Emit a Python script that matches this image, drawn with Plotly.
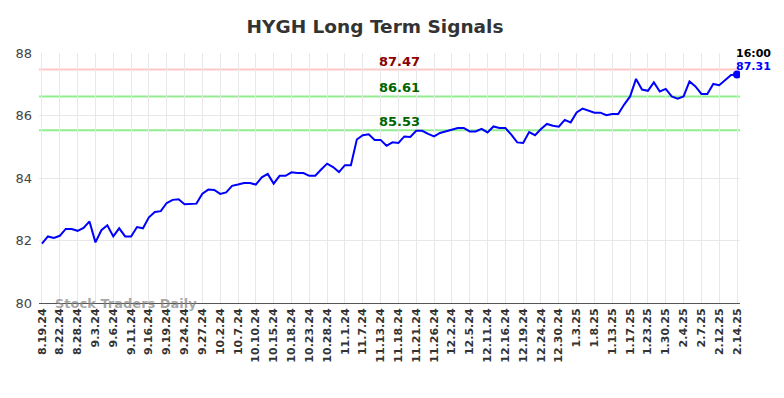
import plotly.graph_objects as go

title = "HYGH Long Term Signals"
tick_labels = ["8.19.24", "8.22.24", "8.28.24", "9.3.24", "9.6.24", "9.11.24", "9.16.24", "9.19.24",
               "9.24.24", "9.27.24", "10.2.24", "10.7.24", "10.10.24", "10.15.24", "10.18.24",
               "10.23.24", "10.28.24", "11.1.24", "11.7.24", "11.13.24", "11.18.24", "11.21.24",
               "11.26.24", "12.2.24", "12.5.24", "12.11.24", "12.16.24", "12.19.24", "12.24.24",
               "12.30.24", "1.3.25", "1.8.25", "1.13.25", "1.17.25", "1.23.25", "1.30.25",
               "2.4.25", "2.7.25", "2.12.25", "2.14.25"]
prices = [81.90, 82.13, 82.08, 82.15, 82.37, 82.37, 82.31, 82.40, 82.61, 81.94,
          82.33, 82.49, 82.13, 82.39, 82.13, 82.13, 82.43, 82.39, 82.74, 82.91,
          82.94, 83.20, 83.30, 83.32, 83.16, 83.18, 83.18, 83.50, 83.63, 83.62,
          83.49, 83.54, 83.75, 83.79, 83.84, 83.84, 83.79, 84.02, 84.13, 83.82,
          84.07, 84.07, 84.18, 84.16, 84.16, 84.07, 84.07, 84.27, 84.46, 84.35,
          84.19, 84.41, 84.41, 85.23, 85.37, 85.40, 85.22, 85.22, 85.03, 85.14,
          85.12, 85.33, 85.31, 85.51, 85.51, 85.41, 85.33, 85.44, 85.50, 85.55,
          85.60, 85.60, 85.49, 85.49, 85.57, 85.46, 85.65, 85.60, 85.60, 85.39,
          85.14, 85.12, 85.47, 85.37, 85.57, 85.73, 85.67, 85.64, 85.86, 85.78,
          86.10, 86.22, 86.15, 86.09, 86.09, 86.01, 86.05, 86.05, 86.35, 86.61,
          87.17, 86.83, 86.79, 87.06, 86.77, 86.85, 86.61, 86.54, 86.61, 87.09,
          86.93, 86.69, 86.69, 87.01, 86.97, 87.15, 87.30, 87.31]
levels = [87.47, 86.61, 85.53]
level_line_colors = ["#ffc8c8", "#90ee90", "#90ee90"]
level_text_colors = ["#8b0000", "#006400", "#006400"]
last_time = "16:00"
y_ticks = [80, 82, 84, 86, 88]

x = list(range(len(prices)))
tick_pos = x[::3]

fig = go.Figure()
for lv, lc in zip(levels, level_line_colors):
    fig.add_hline(y=lv, line=dict(color=lc, width=2), layer="below")

fig.add_trace(go.Scatter(x=x, y=prices, mode="lines",
                         line=dict(color="#0000ff", width=2), hoverinfo="skip"))
fig.add_trace(go.Scatter(x=[x[-1]], y=[prices[-1]], mode="markers",
                         marker=dict(color="#0000ff", size=8)))

mid = x[len(x) // 2 + 1]
for lv, tc in zip(levels, level_text_colors):
    fig.add_annotation(x=mid, y=lv, text=f"<b>{lv:.2f}</b>", showarrow=False,
                       yanchor="bottom", yshift=-1, xshift=1,
                       font=dict(color=tc, size=13, family="DejaVu Sans"))

fig.add_annotation(x=x[-1], y=prices[-1], text=f"<b>{last_time}</b>", showarrow=False,
                   xanchor="center", yanchor="bottom", xshift=16, yshift=13,
                   font=dict(color="black", size=11, family="DejaVu Sans"))
fig.add_annotation(x=x[-1], y=prices[-1], text=f"<b>{prices[-1]:.2f}</b>", showarrow=False,
                   xanchor="center", yanchor="bottom", xshift=16, yshift=0,
                   font=dict(color="#0000ff", size=11, family="DejaVu Sans"))

fig.add_annotation(xref="paper", yref="paper", x=0.02, y=0.0, text="<b>Stock Traders Daily</b>",
                   showarrow=False, xanchor="left", yanchor="middle",
                   font=dict(color="rgba(128,128,128,0.7)", size=13, family="DejaVu Sans"))

fig.update_layout(
    width=784, height=398,
    margin=dict(l=39, r=44, t=53, b=95),
    paper_bgcolor="white", plot_bgcolor="white",
    showlegend=False,
    title=dict(text=f"<b>{title}</b>", x=375 / 784, xanchor="center", y=1 - 26.5 / 398, yanchor="middle",
               font=dict(size=18.5, color="#333333", family="DejaVu Sans")),
    xaxis=dict(range=[-0.5, len(x) - 0.5], tickmode="array", tickvals=tick_pos,
               ticktext=[f"<b>{t}</b>" for t in tick_labels], tickangle=-90,
               tickfont=dict(size=11, color="#333333", family="DejaVu Sans"),
               showgrid=True, gridcolor="#e8e8e8", gridwidth=1,
               showline=True, linecolor="#555555", linewidth=1, zeroline=False, ticks=""),
    yaxis=dict(range=[80, 88], tickvals=y_ticks, showgrid=True, gridcolor="#e8e8e8",
               tickfont=dict(size=13, color="#444444", family="DejaVu Sans"),
               zeroline=False, ticks="", ticklen=0, ticklabelstandoff=6),
)
fig.write_html("out.html")
